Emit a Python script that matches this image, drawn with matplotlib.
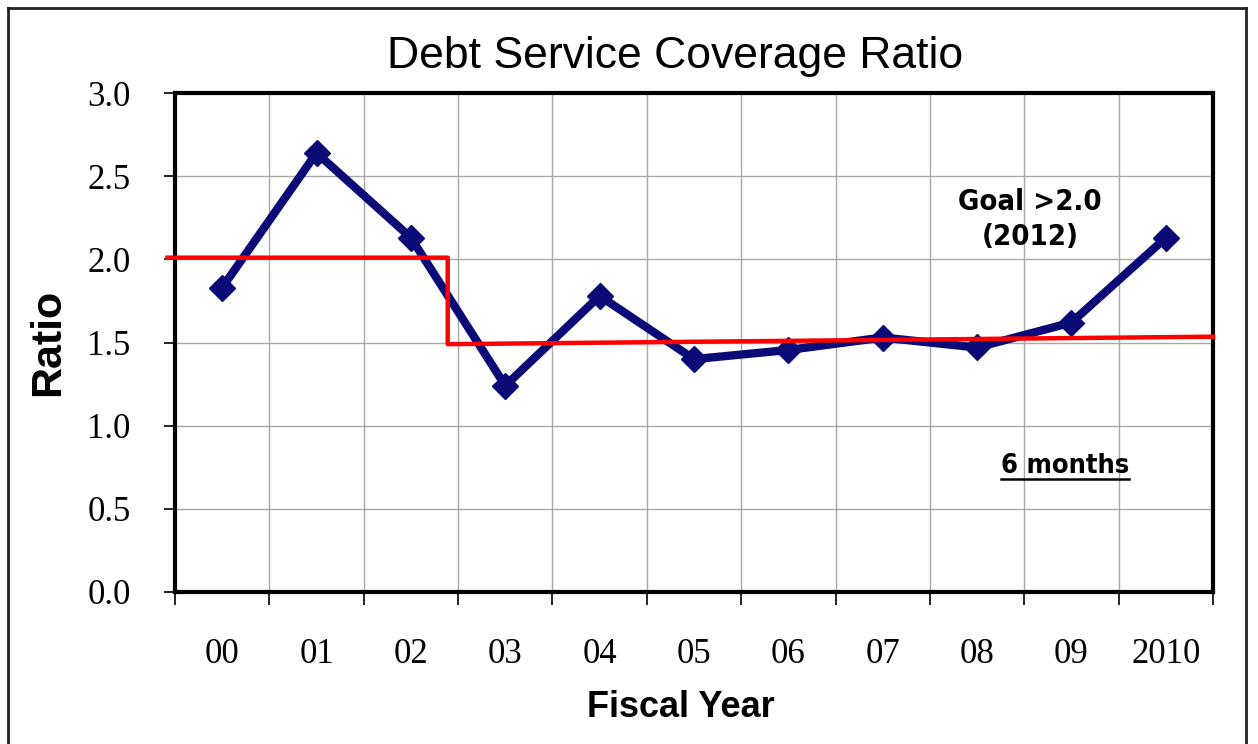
import matplotlib
matplotlib.use("Agg")
import matplotlib.pyplot as plt
from matplotlib.lines import Line2D

# Fiscal years and debt service coverage ratios
years = ["00", "01", "02", "03", "04", "05", "06", "07", "08", "09", "2010"]
ratios = [1.83, 2.64, 2.13, 1.24, 1.78, 1.40, 1.455, 1.53, 1.47, 1.62, 2.13]

# Goal / trend reference line (step then gently rising)
ref_x = [-0.58, 2.39, 2.39, 10.5]
ref_y = [2.01, 2.01, 1.49, 1.535]

y_ticks = [0.0, 0.5, 1.0, 1.5, 2.0, 2.5, 3.0]

fig = plt.figure(figsize=(12.58, 7.44), dpi=100)
ax = fig.add_axes([175 / 1258, 152 / 744, 1038 / 1258, 499 / 744])

x = list(range(len(years)))
ax.plot(x, ratios, color="#0b0b78", lw=6, marker="D", markersize=13,
        solid_joinstyle="miter", zorder=4)
ax.plot(ref_x, ref_y, color="#ff0000", lw=3.2, clip_on=False, zorder=5)

ax.set_xlim(-0.5, len(years) - 0.5)
ax.set_ylim(0, 3.0)

# category boundaries carry the ticks/grid, labels sit at centers
ax.set_xticks([i - 0.5 for i in range(len(years) + 1)])
ax.set_xticklabels([])
ax.set_xticks(x, minor=True)
ax.set_xticklabels(years, minor=True, fontfamily="Liberation Serif", fontsize=25)
ax.tick_params(axis="x", which="minor", length=0, pad=33)
ax.tick_params(axis="x", which="major", direction="out", length=9, width=1.2)

ax.set_yticks(y_ticks)
ax.set_yticklabels([f"{v:.1f}" for v in y_ticks], fontfamily="Liberation Serif", fontsize=25)
ax.tick_params(axis="y", direction="out", length=8, width=1.2, pad=24)

ax.grid(True, which="major", color="#a8a8a8", lw=1)
ax.set_axisbelow(True)
for s in ax.spines.values():
    s.set_linewidth(3)
    s.set_color("black")

ax.set_title("Debt Service Coverage Ratio", fontfamily="Liberation Sans",
             fontsize=32, pad=18, x=0.482)
ax.set_ylabel("Ratio", fontfamily="Liberation Sans", fontweight="bold",
              fontsize=31, labelpad=14)
ax.set_xlabel("Fiscal Year", fontfamily="Liberation Sans", fontweight="bold",
              fontsize=26, labelpad=14, x=0.487)

ax.text(8.56, 2.24, "Goal >2.0\n(2012)", ha="center", va="center",
        fontfamily="DejaVu Sans", fontstretch="condensed", fontweight="bold",
        fontsize=21, linespacing=1.3, zorder=6)
months = ax.text(8.93, 0.755, "6 months", ha="center", va="center",
                 fontfamily="DejaVu Sans", fontstretch="condensed", fontweight="bold",
                 fontsize=19.5, zorder=6)

# underline spanning the "6 months" label
fig.canvas.draw()
bb = months.get_window_extent().transformed(ax.transData.inverted())
ax.plot([bb.x0, bb.x1], [bb.y0 + 0.005, bb.y0 + 0.005], color="black", lw=1.8, zorder=6)

# outer frame around the chart
l, r, t, b = 8 / 1258, 1246 / 1258, 1 - 8 / 744, -0.02
for xs, ys in [([l, l], [b, t]), ([l, r], [t, t]), ([r, r], [t, b])]:
    fig.add_artist(Line2D(xs, ys, transform=fig.transFigure, color="#222222", lw=2))

fig.savefig("out.png", dpi=100, facecolor="white")
